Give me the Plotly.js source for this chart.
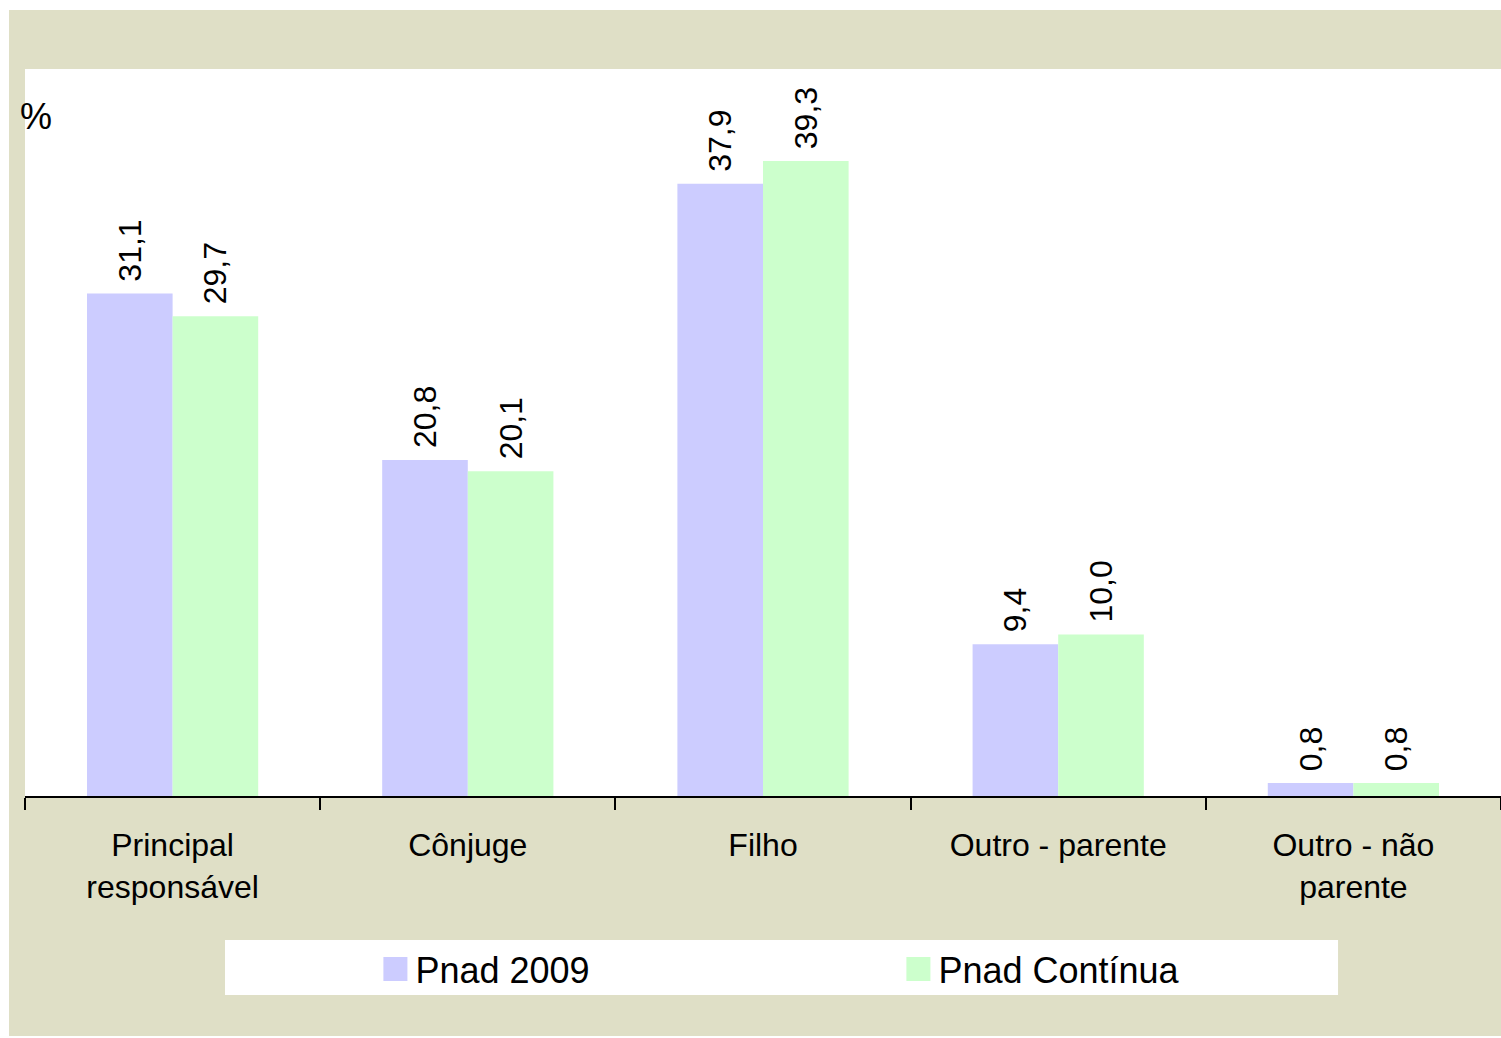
<!DOCTYPE html>
<html>
<head>
<meta charset="utf-8">
<script src="https://cdn.plot.ly/plotly-3.0.1.min.js"></script>
<style>
html,body{margin:0;padding:0;background:#ffffff;}
#chart{position:absolute;left:9px;top:10px;width:1492px;height:1026px;}
</style>
</head>
<body>
<div id="chart"></div>
<script>
const categories = ['Principal<br>responsável', 'Cônjuge', 'Filho', 'Outro - parente', 'Outro - não<br>parente'];
const seriesNames = ['Pnad 2009', 'Pnad Contínua'];
const pnad2009 = [31.1, 20.8, 37.9, 9.4, 0.8];
const pnadContinua = [29.7, 20.1, 39.3, 10.0, 0.8];
const colors = ['#ccccff', '#ccffcc'];

const FONT = 'Liberation Sans, Arial, sans-serif';
// leading non-breaking space gives the small gap between bar top and label
const fmt = v => '\u00a0' + v.toFixed(1).replace('.', ',');

const traces = [pnad2009, pnadContinua].map((vals, i) => ({
  type: 'bar',
  name: seriesNames[i],
  x: categories,
  y: vals,
  marker: {color: colors[i], line: {width: 0}},
  text: vals.map(fmt),
  textposition: 'outside',
  textangle: -90,
  constraintext: 'none',
  cliponaxis: false,
  textfont: {family: FONT, size: 32, color: '#000000'},
  hoverinfo: 'skip'
}));

const layout = {
  width: 1492,
  height: 1026,
  margin: {l: 16, r: 0, t: 59, b: 240},
  paper_bgcolor: '#dfdfc6',
  plot_bgcolor: '#ffffff',
  barmode: 'group',
  bargap: 0.42,
  bargroupgap: 0,
  font: {family: FONT, color: '#000000'},
  xaxis: {
    type: 'category',
    showgrid: false,
    showline: true,
    linecolor: '#000000',
    linewidth: 2,
    ticks: 'outside',
    tickson: 'boundaries',
    ticklen: 12,
    tickwidth: 2,
    tickcolor: '#000000',
    ticklabelstandoff: 20,
    tickfont: {family: FONT, size: 32, color: '#000000'},
    zeroline: false,
    fixedrange: true
  },
  yaxis: {
    range: [0, 45],
    showgrid: false,
    showline: false,
    showticklabels: false,
    ticks: '',
    zeroline: false,
    fixedrange: true
  },
  showlegend: true,
  legend: {
    orientation: 'h',
    x: 0.2374,
    xanchor: 'left',
    y: -0.238,
    yanchor: 'middle',
    bgcolor: 'rgba(0,0,0,0)',
    borderwidth: 0,
    entrywidth: 478,
    entrywidthmode: 'pixels',
    font: {family: FONT, size: 36, color: '#000000'}
  },
  shapes: [{
    type: 'rect', xref: 'paper', yref: 'paper',
    x0: 0.1355, x1: 0.8896, y0: -0.2737, y1: -0.1981,
    fillcolor: '#ffffff', line: {width: 0}, layer: 'below'
  }],
  annotations: [{
    text: '%', xref: 'paper', yref: 'paper', x: -0.0047, y: 0.935,
    xanchor: 'left', yanchor: 'middle', showarrow: false,
    font: {family: FONT, size: 36, color: '#000000'}
  }]
};

Plotly.newPlot('chart', traces, layout, {displayModeBar: false, staticPlot: true}).then(gd => {
  gd.querySelectorAll('.legend .legendpoints path').forEach(p => {
    p.setAttribute('transform', (p.getAttribute('transform') || '') + ' scale(2)');
  });
});
</script>
</body>
</html>
